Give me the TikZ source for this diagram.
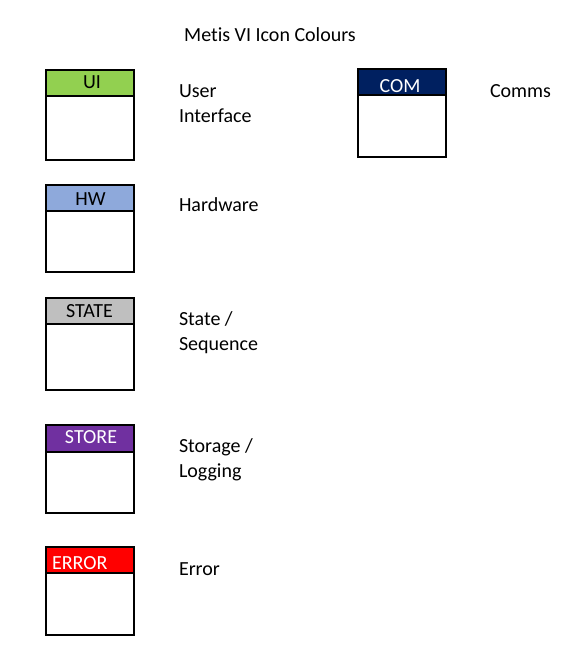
\documentclass[tikz,border=0pt]{standalone}
\usepackage{fontspec}
\setmainfont{Carlito}[RawFeature={-liga;-clig;-dlig}]
\definecolor{uigreen}{HTML}{92D050}
\definecolor{hwblue}{HTML}{8EA9DB}
\definecolor{stategray}{HTML}{BFBFBF}
\definecolor{storepurple}{HTML}{7030A0}
\definecolor{errorred}{HTML}{FF0000}
\definecolor{comnavy}{HTML}{002060}
\begin{document}
\begin{tikzpicture}[x=1pt,y=-1pt,
  every node/.style={font=\fontsize{20}{25}\selectfont, inner sep=0pt, outer sep=0pt},
  frame/.style={draw=black, line width=2pt, minimum width=88pt, anchor=north west},
  head/.style={draw=black, line width=2pt, minimum width=88pt, anchor=north west},
  lab/.style={anchor=base west, text=black},
  htext/.style={anchor=base}]
\useasboundingbox[fill=white] (0,0) rectangle (586,672);

\node[anchor=base] (title) at (270,41) {Met\kern0pt is VI Icon Colours};

% UI
\node[head, fill=uigreen, minimum height=26pt] (uiH) at (46,70) {};
\node[frame, minimum height=90pt] (uiF) at (46,70) {};
\node[htext] (uiT) at (92,88) {UI};
\node[lab] (uiL1) at (179,97) {User};
\node[lab] (uiL2) at (179,122) {Interface};

% COM
\node[head, fill=comnavy, minimum height=26pt] (comH) at (358,69) {};
\node[frame, minimum height=88pt] (comF) at (358,69) {};
\node[htext, text=white] (comT) at (400,92) {COM};
\node[lab] (comL) at (490,97) {Comms};

% HW
\node[head, fill=hwblue, minimum height=26pt] (hwH) at (46,185) {};
\node[frame, minimum height=87pt] (hwF) at (46,185) {};
\node[htext] (hwT) at (90.5,205) {HW};
\node[lab] (hwL) at (179,211) {Hardware};

% STATE
\node[head, fill=stategray, minimum height=26pt] (stH) at (46,298) {};
\node[frame, minimum height=92pt] (stF) at (46,298) {};
\node[htext] (stT) at (89.5,317) {STATE};
\node[lab] (stL1) at (179,325.5) {State /};
\node[lab] (stL2) at (179,350.5) {Sequence};

% STORE
\node[head, fill=storepurple, minimum height=27pt] (soH) at (46,425) {};
\node[frame, minimum height=88pt] (soF) at (46,425) {};
\node[htext, text=white] (soT) at (91,443) {STORE};
\node[lab] (soL1) at (179,452.5) {Storage /};
\node[lab] (soL2) at (179,477.5) {Logging};

% ERROR
\node[head, fill=errorred, minimum height=26pt] (erH) at (46,547) {};
\node[frame, minimum height=88pt] (erF) at (46,547) {};
\node[anchor=base west, text=white] (erT) at (52,569) {ERROR};
\node[lab] (erL) at (179,575) {Error};
\end{tikzpicture}
\end{document}
